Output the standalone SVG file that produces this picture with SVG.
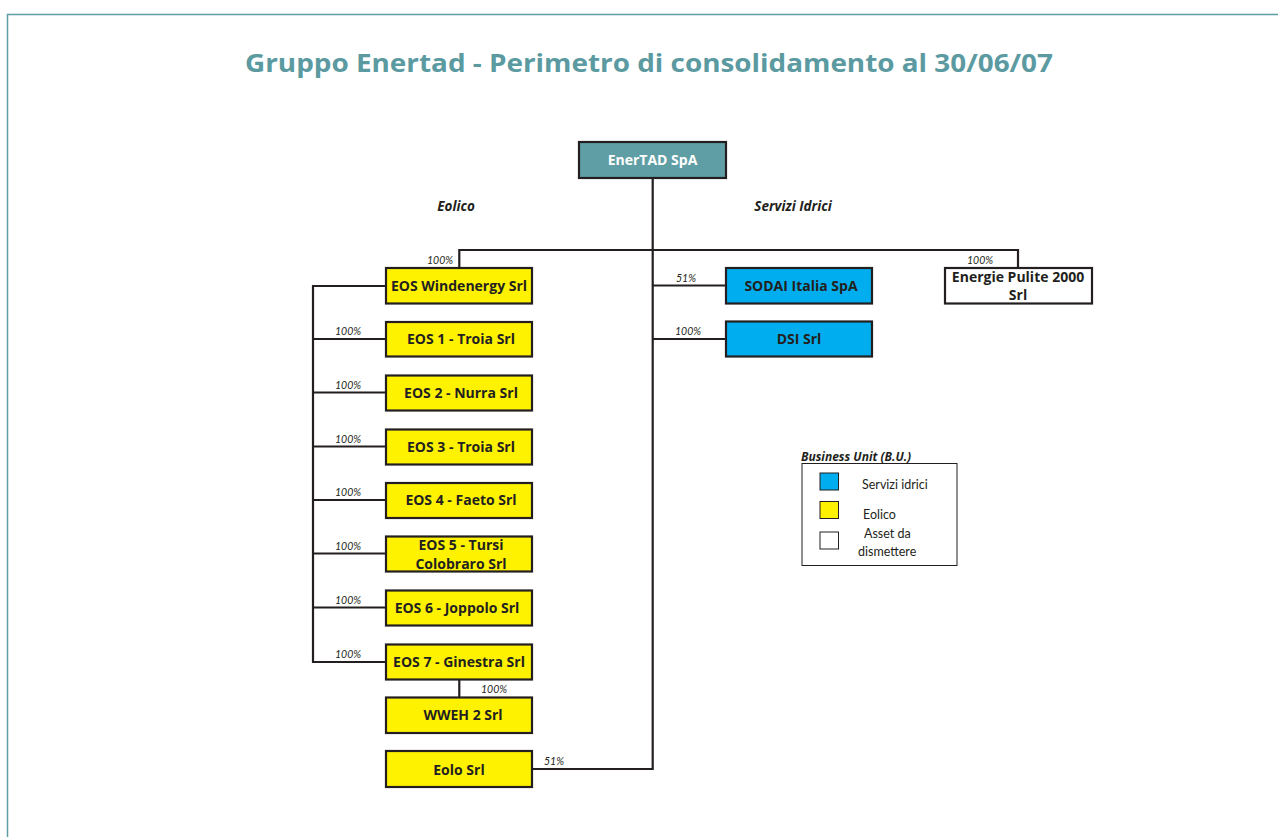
<svg xmlns="http://www.w3.org/2000/svg" width="1278" height="837" viewBox="0 0 1278 837">
<style>
.box{stroke:#231f20;stroke-width:2.2}
.y{fill:#fff200}
.b{fill:#00aeef}
.w{fill:#ffffff}
.t{font-family:"Open Sans","Liberation Sans",sans-serif;font-weight:bold;font-size:14px;fill:#231f20;text-anchor:middle}
.p{font-family:Lato,"Liberation Sans",sans-serif;font-style:italic;font-size:10.5px;fill:#231f20;text-anchor:middle}
.ln{stroke:#231f20;stroke-width:2.2;fill:none}
.lg{font-family:Lato,"Liberation Sans",sans-serif;font-size:12.5px;fill:#231f20}
.sec{font-family:"Open Sans","Liberation Sans",sans-serif;font-weight:bold;font-style:italic;font-size:13.5px;fill:#231f20;text-anchor:middle}
</style>
<rect x="0" y="0" width="1278" height="837" fill="#ffffff"/>
<path d="M7.5 837 V14.5 H1278" stroke="#5f9ea4" stroke-width="1.5" fill="none"/>
<text x="649" y="72" font-family="'Open Sans','Liberation Sans',sans-serif" font-weight="bold" font-size="25" fill="#5b9aa0" text-anchor="middle" textLength="808" lengthAdjust="spacingAndGlyphs">Gruppo Enertad - Perimetro di consolidamento al 30/06/07</text>
<text class="sec" x="456" y="211">Eolico</text>
<text class="sec" x="793" y="211">Servizi Idrici</text>
<g id="connectors">
<path class="ln" d="M652.7 178 V769 H533"/>
<path class="ln" d="M459.3 268 V250 H1018 V268"/>
<path class="ln" d="M652.7 285.5 H726"/>
<path class="ln" d="M652.7 339 H726"/>
<path class="ln" d="M386 286 H313 V662 H386"/>
<path class="ln" d="M313 339 H386 M313 392.5 H386 M313 446.5 H386 M313 500 H386 M313 553.5 H386 M313 607.5 H386"/>
<path class="ln" d="M459.3 680 V697.5"/>
<text class="p" x="440" y="264">100%</text>
<text class="p" x="686" y="282">51%</text>
<text class="p" x="688" y="335">100%</text>
<text class="p" x="980" y="264">100%</text>
<text class="p" x="348" y="335">100%</text>
<text class="p" x="348" y="389">100%</text>
<text class="p" x="348" y="443">100%</text>
<text class="p" x="348" y="496">100%</text>
<text class="p" x="348" y="550">100%</text>
<text class="p" x="348" y="604">100%</text>
<text class="p" x="348" y="658">100%</text>
<text class="p" x="494" y="693">100%</text>
<text class="p" x="554" y="765">51%</text>
</g>
<g id="enertad"><rect class="box" x="579" y="142" width="147" height="36" fill="#5f9ea4"/><text class="t" x="652.5" y="165" style="fill:#ffffff">EnerTAD SpA</text></g>
<g id="eoswind"><rect class="box y" x="386" y="268" width="146" height="35.5"/><text class="t" x="459" y="291">EOS Windenergy Srl</text></g>
<g id="sodai"><rect class="box b" x="726" y="268" width="146" height="35.5"/><text class="t" x="801" y="291">SODAI Italia SpA</text></g>
<g id="dsi"><rect class="box b" x="726" y="321.5" width="146" height="35"/><text class="t" x="799" y="344">DSI Srl</text></g>
<g id="energie"><rect class="box w" x="945" y="268" width="147" height="35.5"/><text class="t" x="1018" y="282">Energie Pulite 2000</text><text class="t" x="1018" y="300">Srl</text></g>
<g id="eos1"><rect class="box y" x="386" y="322" width="146" height="34.5"/><text class="t" x="461" y="344">EOS 1 - Troia Srl</text></g>
<g id="eos2"><rect class="box y" x="386" y="375.5" width="146" height="35"/><text class="t" x="461" y="398">EOS 2 - Nurra Srl</text></g>
<g id="eos3"><rect class="box y" x="386" y="429.5" width="146" height="35"/><text class="t" x="461" y="452">EOS 3 - Troia Srl</text></g>
<g id="eos4"><rect class="box y" x="386" y="483" width="146" height="35"/><text class="t" x="461" y="505">EOS 4 - Faeto Srl</text></g>
<g id="eos5"><rect class="box y" x="386" y="536.5" width="146" height="35"/><text class="t" x="461" y="550">EOS 5 - Tursi</text><text class="t" x="461" y="569">Colobraro Srl</text></g>
<g id="eos6"><rect class="box y" x="386" y="590.5" width="146" height="35"/><text class="t" x="457" y="613">EOS 6 - Joppolo Srl</text></g>
<g id="eos7"><rect class="box y" x="386" y="644.5" width="146" height="35"/><text class="t" x="459" y="667">EOS 7 - Ginestra Srl</text></g>
<g id="wweh"><rect class="box y" x="386" y="697.5" width="146" height="35.5"/><text class="t" x="463" y="720">WWEH 2 Srl</text></g>
<g id="eolo"><rect class="box y" x="386" y="751" width="146" height="36"/><text class="t" x="459" y="775">Eolo Srl</text></g>
<g id="legend">
<text x="801" y="461" font-family="'Open Sans','Liberation Sans',sans-serif" font-weight="bold" font-style="italic" font-size="12" fill="#231f20">Business Unit (B.U.)</text>
<rect x="802" y="463.5" width="155" height="102" fill="none" stroke="#231f20" stroke-width="1"/>
<rect x="820" y="473" width="18.5" height="17" fill="#00aeef" stroke="#231f20" stroke-width="1"/>
<rect x="820" y="501.5" width="18.5" height="17" fill="#fff200" stroke="#231f20" stroke-width="1"/>
<rect x="820" y="532" width="18.5" height="17" fill="#ffffff" stroke="#231f20" stroke-width="1"/>
<text class="lg" x="862" y="489">Servizi idrici</text>
<text class="lg" x="863" y="519">Eolico</text>
<text class="lg" x="864" y="538">Asset da</text>
<text class="lg" x="858" y="556">dismettere</text>
</g>
</svg>
